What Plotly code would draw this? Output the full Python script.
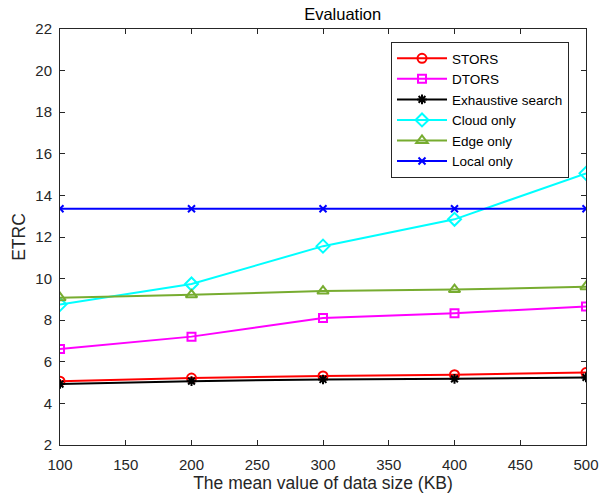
import plotly.graph_objects as go

data_size = [100, 200, 300, 400, 500]
stors = [5.07, 5.22, 5.32, 5.38, 5.48]
dtors = [6.62, 7.21, 8.11, 8.34, 8.66]
exhaustive = [4.93, 5.07, 5.15, 5.18, 5.25]
cloud_only = [8.76, 9.74, 11.56, 12.85, 15.06]
edge_only = [9.08, 9.22, 9.40, 9.47, 9.61]
local_only = [13.36, 13.36, 13.36, 13.36, 13.36]

series = [
    ("STORS", stors, "#FF0000", "circle-open", 9),
    ("DTORS", dtors, "#FF00FF", "square-open", 8),
    ("Exhaustive search", exhaustive, "#000000", "asterisk-open", 8),
    ("Cloud only", cloud_only, "#00FFFF", "diamond-open", 10),
    ("Edge only", edge_only, "#77AC30", "triangle-up-open", 10),
    ("Local only", local_only, "#0000FF", "x-thin-open", 7),
]

fig = go.Figure()
for name, vals, color, sym, size in series:
    fig.add_trace(go.Scatter(
        x=data_size, y=vals, name=name, mode="lines+markers",
        line=dict(color=color, width=2),
        marker=dict(symbol=sym, size=size, color=color,
                    line=dict(color=color, width=2)),
    ))

axis_common = dict(
    showgrid=False, zeroline=False, showline=True, linecolor="#262626",
    linewidth=1, mirror="allticks", ticks="inside", ticklen=5,
    tickcolor="#262626", tickfont=dict(size=15, color="#262626"),
    automargin=False,
)

fig.update_layout(
    width=601, height=493,
    margin=dict(l=60, r=15, t=29, b=48),
    paper_bgcolor="white", plot_bgcolor="white",
    font=dict(family="Liberation Sans, Arial, sans-serif", color="#262626"),
    title=dict(text="Evaluation", x=(60 + 586) / 2 / 601, xref="paper", xanchor="center",
               y=1 - 14 / 493, yanchor="middle", font=dict(size=16.5, color="black")),
    xaxis=dict(range=[100, 500], dtick=50, tick0=100, ticklabelstandoff=6,
               title=dict(text="The mean value of data size (KB)", font=dict(size=17.5), standoff=9),
               **axis_common),
    yaxis=dict(range=[2, 22], dtick=2, tick0=2, ticklabelstandoff=4,
               title=dict(text="ETRC", font=dict(size=17.5), standoff=5),
               **axis_common),
    legend=dict(x=(391 - 60) / 526, y=(445 - 42) / 416, xanchor="left", yanchor="top",
                bgcolor="white", bordercolor="#262626", borderwidth=1,
                font=dict(size=13.5, color="black"), tracegroupgap=0,
                itemwidth=50),
    showlegend=True,
)

fig.write_html("out.html")
